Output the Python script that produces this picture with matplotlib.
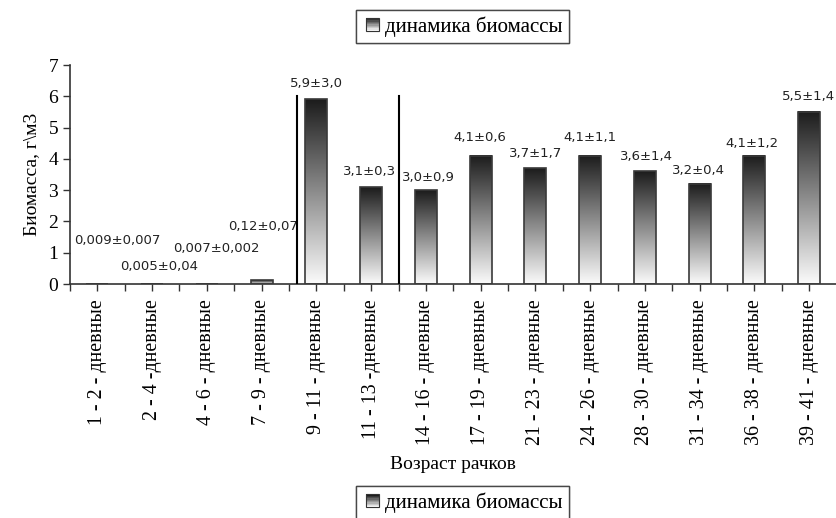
import numpy as np
import matplotlib
matplotlib.use("Agg")
import matplotlib.pyplot as plt
from matplotlib.colors import LinearSegmentedColormap
from matplotlib.legend_handler import HandlerBase
from matplotlib.patches import Rectangle, Patch

ages = ["1 - 2 - дневные", "2 - 4 -дневные", "4 - 6 - дневные", "7 - 9 - дневные",
        "9 - 11 - дневные", "11 - 13 -дневные", "14 - 16 - дневные", "17 - 19 - дневные",
        "21 - 23 - дневные", "24 - 26 - дневные", "28 - 30 - дневные", "31 - 34 - дневные",
        "36 - 38 - дневные", "39 - 41 - дневные"]
biomass = [0.009, 0.005, 0.007, 0.12, 5.9, 3.1, 3.0, 4.1, 3.7, 4.1, 3.6, 3.2, 4.1, 5.5]
value_labels = ["0,009±0,007", "0,005±0,04", "0,007±0,002", "0,12±0,07", "5,9±3,0",
                "3,1±0,3", "3,0±0,9", "4,1±0,6", "3,7±1,7", "4,1±1,1", "3,6±1,4",
                "3,2±0,4", "4,1±1,2", "5,5±1,4"]
series_name = "динамика биомассы"

# where each value label sits (x in category units, y in data units)
label_xy = [(0.36, 1.4), (1.13, 0.57), (2.17, 1.15), (3.02, 1.85), (4.01, 6.42),
            (4.97, 3.61), (6.05, 3.39), (6.98, 4.67), (8.01, 4.18), (9.0, 4.67),
            (10.02, 4.06), (10.98, 3.64), (11.95, 4.5), (12.99, 6.0)]
sep_lines = [3.65, 5.5]

SERIF = "Liberation Serif"
SANS = "DejaVu Sans"
grad_cmap = LinearSegmentedColormap.from_list("bw", ["#fbfbfb", "#8c8c8c", "#1c1c1c"])


class GradientHandler(HandlerBase):
    def create_artists(self, legend, orig_handle, xdescent, ydescent, width, height, fontsize, trans):
        side = min(width, height) * 0.9
        x0 = -xdescent + width - side
        y0 = -ydescent + (height - side) / 2
        n = 10
        arts = []
        for i in range(n):
            c = grad_cmap(i / (n - 1))
            arts.append(Rectangle((x0, y0 + side * i / n), side, side / n, facecolor=c,
                                  edgecolor="none", transform=trans))
        arts.append(Rectangle((x0, y0), side, side, facecolor="none", edgecolor="#333333",
                              lw=0.8, transform=trans))
        return arts


fig = plt.figure(figsize=(8.36, 5.18), dpi=100)
ax = fig.add_axes([0.0837, 0.4517, 0.917, 0.4228])

x = np.arange(len(ages))
w = 0.4
grad = np.linspace(0, 1, 256).reshape(-1, 1)
for xi, v in zip(x, biomass):
    ax.imshow(grad, extent=(xi - w / 2, xi + w / 2, 0, v), origin="lower", aspect="auto",
              cmap=grad_cmap, zorder=2)
ax.bar(x, biomass, width=w, fill=False, edgecolor="#3a3a3a", linewidth=1.2, zorder=3)

for txt, (lx, ly) in zip(value_labels, label_xy):
    ax.text(lx, ly, txt, ha="center", va="center", fontsize=9.5, family=SANS, color="#222222")

for sx in sep_lines:
    ax.plot([sx, sx], [0, 6], color="black", lw=1.5, zorder=4)

ax.set_xlim(-0.5, 13.5)
ax.set_ylim(0, 7)
ax.set_yticks(range(8))
ax.set_xticks(x)
ax.set_xticklabels(ages, rotation=90, fontsize=14.4, family=SERIF, va="top")
ax.set_xticks(np.arange(-0.5, 14, 1.0), minor=True)
ax.tick_params(axis="x", which="both", direction="out", length=5, width=1, color="#333333", pad=6)
ax.tick_params(axis="y", direction="out", length=5, width=1, color="#333333", labelsize=14)
for lab in ax.get_yticklabels():
    lab.set_family(SERIF)
for s in ["top", "right"]:
    ax.spines[s].set_visible(False)
ax.spines["left"].set_color("#333333")
ax.spines["bottom"].set_color("#333333")
ax.spines["left"].set_linewidth(1.2)
ax.spines["bottom"].set_linewidth(1.2)

ax.set_xlabel("Возраст рачков", fontsize=14, family=SERIF, labelpad=8)
ax.set_ylabel("Биомасса, г\\м3", fontsize=14, family=SERIF, labelpad=6)

handle = Patch(label=series_name)
for yc in [0.949, 0.029]:
    leg = fig.legend([handle], [series_name], handler_map={Patch: GradientHandler()},
                     loc="center", bbox_to_anchor=(0.553, yc), frameon=True, fancybox=False,
                     prop={"family": SERIF, "size": 15}, handlelength=0.8, handletextpad=0.3,
                     borderpad=0.3)
    leg.get_frame().set_edgecolor("#333333")
    leg.get_frame().set_linewidth(1.0)
    fig.add_artist(leg)

fig.savefig("out.png", dpi=100, facecolor="white")
